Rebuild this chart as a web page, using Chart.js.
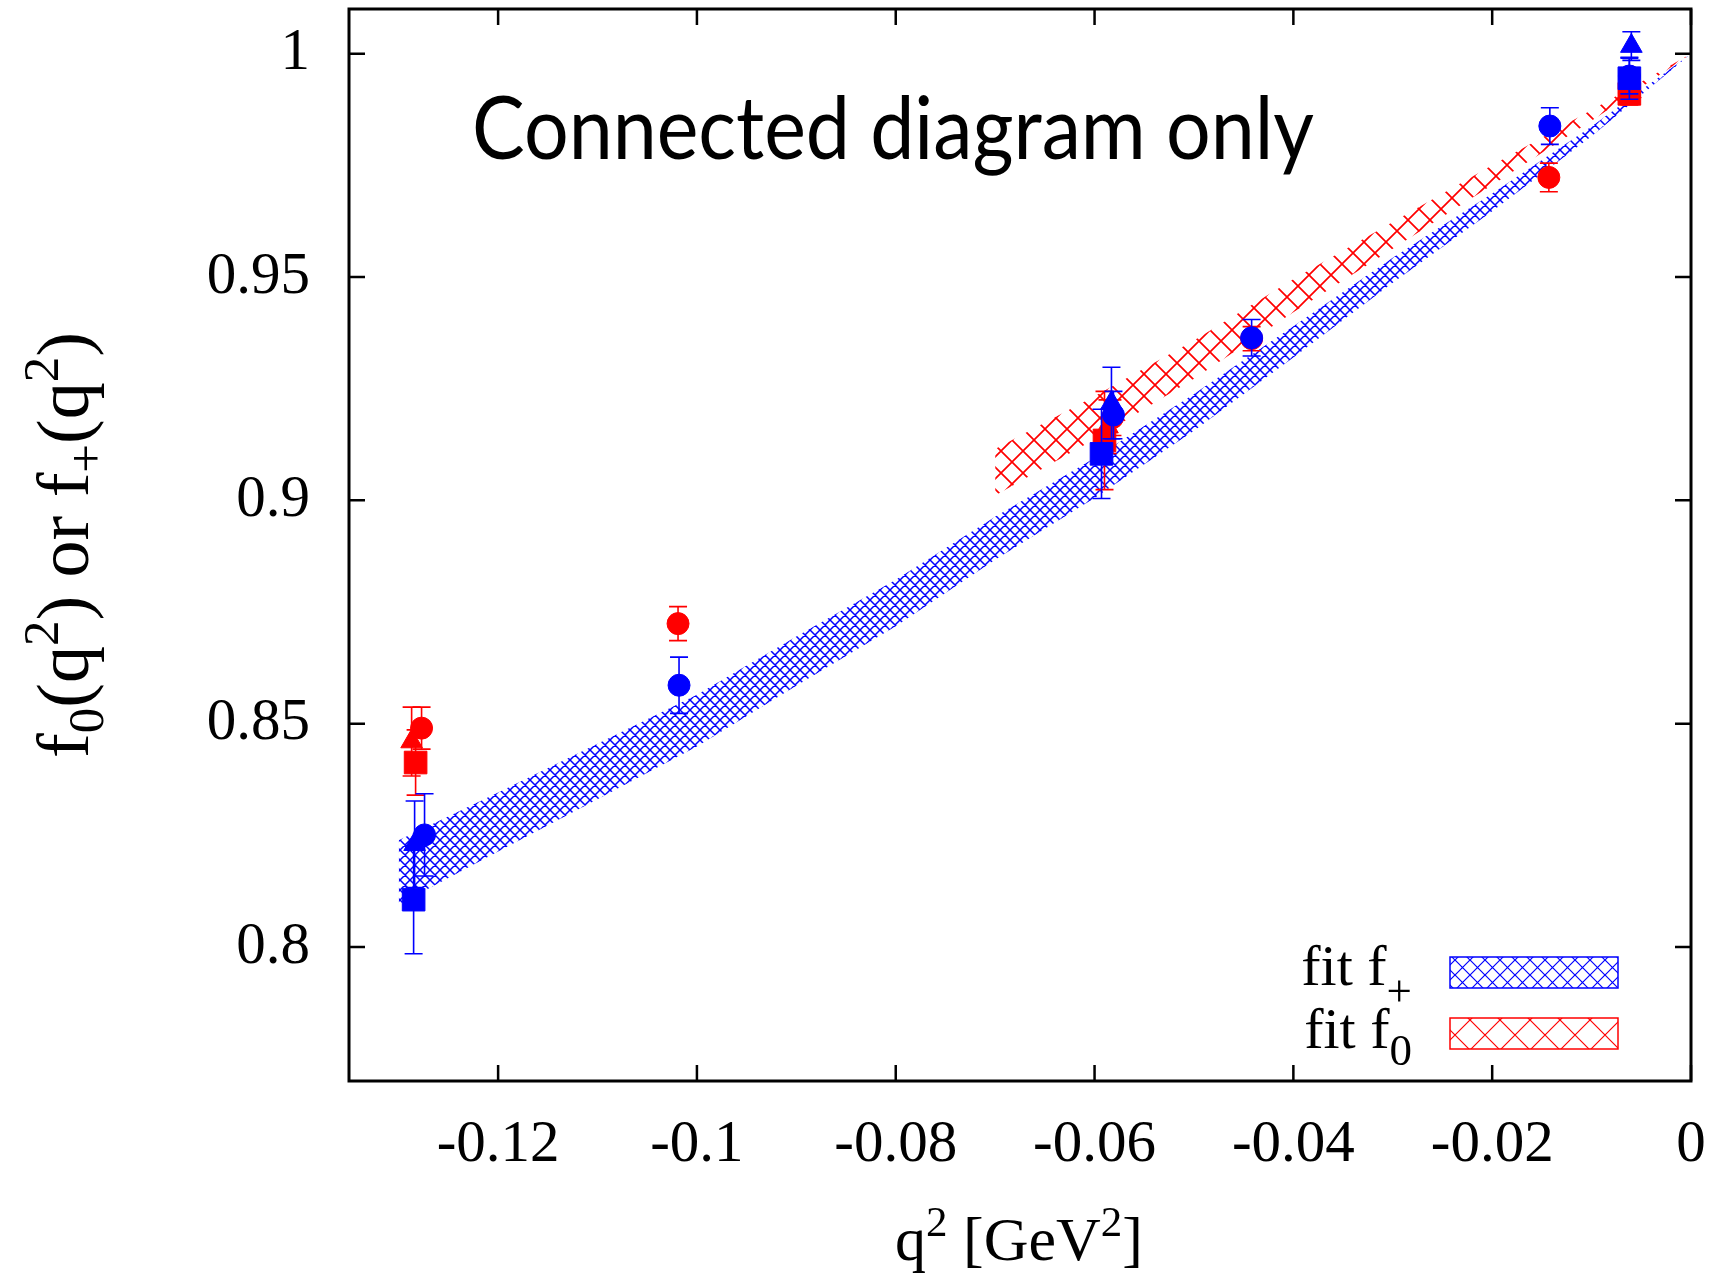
<!DOCTYPE html>
<html>
<head>
<meta charset="utf-8">
<title>Form factors f0 and f+</title>
<script src="https://cdn.jsdelivr.net/npm/chart.js@4.4.0/dist/chart.umd.min.js"></script>
<style>
  html, body { margin: 0; padding: 0; background: #fff; }
  canvas { display: block; }
</style>
</head>
<body>
<canvas id="ff" width="1721" height="1274"></canvas>
<script>
// axis ticks
var xTicks = [-0.12, -0.1, -0.08, -0.06, -0.04, -0.02, 0];
var xTickLabels = ['-0.12', '-0.1', '-0.08', '-0.06', '-0.04', '-0.02', '0'];
var yTicks = [0.8, 0.85, 0.9, 0.95, 1];
var yTickLabels = ['0.8', '0.85', '0.9', '0.95', '1'];

// f+ lattice points (blue)
var fpCircQ2  = [-0.1274, -0.1018, -0.0581, -0.0442, -0.0142, -0.0062];
var fpCircVal = [0.8251, 0.8586, 0.9191, 0.9364, 0.9838, 0.9950];
var fpCircErr = [0.0092, 0.0063, 0.0053, 0.0041, 0.0041, 0.0040];
var fpTriQ2   = [-0.1284, -0.0583, -0.0060];
var fpTriVal  = [0.8230, 0.9218, 1.0017];
var fpTriErr  = [0.0097, 0.0080, 0.0032];
var fpSqQ2    = [-0.1285, -0.0593, -0.0062];
var fpSqVal   = [0.8106, 0.9104, 0.9945];
var fpSqErr   = [0.0121, 0.0100, 0.0047];

// f0 lattice points (red)
var f0CircQ2  = [-0.1277, -0.1019, -0.0582, -0.0442, -0.0143, -0.0062];
var f0CircVal = [0.8490, 0.8724, 0.9185, 0.9362, 0.9723, 0.9912];
var f0CircErr = [0.0047, 0.0038, 0.0040, 0.0027, 0.0032, 0.0020];
var f0TriQ2   = [-0.1287, -0.0587, -0.0061];
var f0TriVal  = [0.8460, 0.9165, 0.9915];
var f0TriErr  = [0.0077, 0.0060, 0.0022];
var f0SqQ2    = [-0.1283, -0.0590, -0.0062];
var f0SqVal   = [0.8413, 0.9134, 0.9910];
var f0SqErr   = [0.0073, 0.0110, 0.0025];

// fit bands (upper / lower edge)
var bandPlusQ2 = [-0.130, -0.120, -0.110, -0.100, -0.090, -0.080, -0.070, -0.060, -0.050, -0.040, -0.030, -0.020, -0.010, 0];
var bandPlusHi = [0.8239, 0.8346, 0.8455, 0.8565, 0.8695, 0.8822, 0.8963, 0.9095, 0.9238, 0.9390, 0.9543, 0.9687, 0.9837, 1.0];
var bandPlusLo = [0.8095, 0.8214, 0.8331, 0.8449, 0.8585, 0.8718, 0.8867, 0.9005, 0.9156, 0.9320, 0.9487, 0.9647, 0.9815, 1.0];
var bandZeroQ2 = [-0.070, -0.060, -0.050, -0.040, -0.030, -0.020, -0.010, 0];
var bandZeroHi = [0.9115, 0.9233, 0.9358, 0.9495, 0.9623, 0.9750, 0.9874, 1.0];
var bandZeroLo = [0.9011, 0.9137, 0.9272, 0.9421, 0.9563, 0.9706, 0.9850, 1.0];

var BLUE = '#0000ff';
var RED = '#ff0000';
var SERIF = '"Liberation Serif", "DejaVu Serif", serif';

function pts(xs, ys) {
  return xs.map(function (x, i) { return { x: x, y: ys[i] }; });
}

// crosshatch fill used by the fit bands
function hatch(color, step, lw) {
  var c = document.createElement('canvas');
  c.width = step; c.height = step;
  var g = c.getContext('2d');
  g.strokeStyle = color;
  g.lineWidth = lw;
  g.beginPath();
  for (var k = -1; k <= 1; k++) {
    g.moveTo(k * step - 1, -1); g.lineTo(k * step + step + 1, step + 1);
    g.moveTo(k * step + step + 1, -1); g.lineTo(k * step - 1, step + 1);
  }
  g.stroke();
  return g.createPattern(c, 'repeat');
}

var ctx = document.getElementById('ff').getContext('2d');
var bluePat = hatch(BLUE, 10, 1.5);
var redPat = hatch(RED, 22, 1.7);
var bluePatKey = hatch(BLUE, 15, 1.2);
var redPatKey = hatch(RED, 30, 1.2);

function band(xs, ys, fill, pattern, order) {
  return {
    type: 'line', data: pts(xs, ys), order: order,
    borderColor: 'transparent', borderWidth: 0, pointRadius: 0,
    fill: fill, backgroundColor: pattern, tension: 0
  };
}

function marks(xs, ys, errs, color, style, r, order) {
  return {
    data: pts(xs, ys), errs: errs, order: order,
    pointStyle: style, pointRadius: r,
    backgroundColor: color, borderColor: color, borderWidth: 1
  };
}

// text with sub/superscript pieces, drawn left to right on a baseline
function drawRuns(c, runs, x, y, align) {
  var w = 0;
  runs.forEach(function (r) { c.font = r.font; r.w = c.measureText(r.t).width; w += r.w; });
  var cx = align === 'right' ? x - w : (align === 'center' ? x - w / 2 : x);
  runs.forEach(function (r) {
    c.font = r.font;
    c.fillText(r.t, cx, y + (r.dy || 0));
    cx += r.w;
  });
}

var decor = {
  id: 'decor',
  beforeDatasetDraw: function (chart, args) {
    var ds = chart.data.datasets[args.index];
    if (!ds.errs) return;
    var c = chart.ctx, xs = chart.scales.x, ys = chart.scales.y;
    c.save();
    c.strokeStyle = ds.borderColor;
    c.lineWidth = 1.6;
    c.beginPath();
    ds.data.forEach(function (p, i) {
      var px = xs.getPixelForValue(p.x);
      var top = ys.getPixelForValue(p.y + ds.errs[i]);
      var bot = ys.getPixelForValue(p.y - ds.errs[i]);
      c.moveTo(px, top); c.lineTo(px, bot);
      c.moveTo(px - 9, top); c.lineTo(px + 9, top);
      c.moveTo(px - 9, bot); c.lineTo(px + 9, bot);
    });
    c.stroke();
    c.restore();
  },
  afterDraw: function (chart) {
    var c = chart.ctx, a = chart.chartArea;
    var xs = chart.scales.x, ys = chart.scales.y;
    c.save();
    c.fillStyle = '#000';
    c.strokeStyle = '#000';

    // inward tick marks on all four sides
    c.lineWidth = 2.5;
    c.beginPath();
    xTicks.forEach(function (v) {
      var px = xs.getPixelForValue(v);
      c.moveTo(px, a.bottom); c.lineTo(px, a.bottom - 16);
      c.moveTo(px, a.top); c.lineTo(px, a.top + 16);
    });
    yTicks.forEach(function (v) {
      var py = ys.getPixelForValue(v);
      c.moveTo(a.left, py); c.lineTo(a.left + 16, py);
      c.moveTo(a.right, py); c.lineTo(a.right - 16, py);
    });
    c.stroke();

    // frame
    c.lineWidth = 3;
    c.strokeRect(a.left, a.top, a.right - a.left, a.bottom - a.top);

    // title inside the plot
    c.font = '87px Lato, "Open Sans", sans-serif';
    c.textBaseline = 'alphabetic';
    var title = 'Connected diagram only';
    var tw = c.measureText(title).width;
    c.save();
    c.translate(472, 159);
    c.scale(842 / tw, 1);
    c.fillText(title, 0, 0);
    c.restore();

    // x axis title
    var big = '62px ' + SERIF, small = '43px ' + SERIF;
    drawRuns(c, [
      { t: 'q', font: big },
      { t: '2', font: small, dy: -24 },
      { t: ' [GeV', font: big },
      { t: '2', font: small, dy: -24 },
      { t: ']', font: big }
    ], 1019, 1260, 'center');

    // y axis title
    var yb = '74px ' + SERIF, ys2 = '51px ' + SERIF;
    c.save();
    c.translate(88, 545);
    c.rotate(-Math.PI / 2);
    drawRuns(c, [
      { t: 'f', font: yb },
      { t: '0', font: ys2, dy: 15 },
      { t: '(q', font: yb },
      { t: '2', font: ys2, dy: -30 },
      { t: ') or f', font: yb },
      { t: '+', font: ys2, dy: 15 },
      { t: '(q', font: yb },
      { t: '2', font: ys2, dy: -30 },
      { t: ')', font: yb }
    ], 0, 0, 'center');
    c.restore();

    // key
    var kb = '58px ' + SERIF, ks = '45px ' + SERIF;
    drawRuns(c, [{ t: 'fit f', font: kb }, { t: '+', font: ks, dy: 21 }], 1412, 985, 'right');
    drawRuns(c, [{ t: 'fit f', font: kb }, { t: '0', font: ks, dy: 17 }], 1412, 1048, 'right');
    c.lineWidth = 1.5;
    c.fillStyle = bluePatKey;
    c.fillRect(1450, 957, 168, 31);
    c.strokeStyle = BLUE;
    c.strokeRect(1450, 957, 168, 31);
    c.fillStyle = redPatKey;
    c.fillRect(1450, 1018, 168, 31);
    c.strokeStyle = RED;
    c.strokeRect(1450, 1018, 168, 31);

    c.restore();
  }
};

var chart = new Chart(ctx, {
  type: 'scatter',
  data: {
    datasets: [
      band(bandZeroQ2, bandZeroHi, false, redPat, 8),
      band(bandZeroQ2, bandZeroLo, '-1', redPat, 8),
      band(bandPlusQ2, bandPlusHi, false, bluePat, 7),
      band(bandPlusQ2, bandPlusLo, '-1', bluePat, 7),
      marks(f0CircQ2, f0CircVal, f0CircErr, RED, 'circle', 11, 6),
      marks(f0TriQ2, f0TriVal, f0TriErr, RED, 'triangle', 12.5, 5),
      marks(f0SqQ2, f0SqVal, f0SqErr, RED, 'rect', 16, 4),
      marks(fpCircQ2, fpCircVal, fpCircErr, BLUE, 'circle', 11, 3),
      marks(fpTriQ2, fpTriVal, fpTriErr, BLUE, 'triangle', 12.5, 2),
      marks(fpSqQ2, fpSqVal, fpSqErr, BLUE, 'rect', 16, 1)
    ]
  },
  options: {
    responsive: false,
    animation: false,
    devicePixelRatio: 1,
    events: [],
    layout: { autoPadding: false, padding: { top: 9, right: 30, left: 0, bottom: 0 } },
    plugins: { legend: { display: false }, tooltip: { enabled: false } },
    scales: {
      x: {
        type: 'linear', min: -0.135, max: 0,
        afterFit: function (s) {
          s.height = 1274 - 1081;
          s.paddingLeft = 0; s.paddingRight = 0;
        },
        afterBuildTicks: function (s) { s.ticks = xTicks.map(function (v) { return { value: v }; }); },
        ticks: {
          callback: function (v, i) { return xTickLabels[i]; },
          font: { family: SERIF, size: 59 }, color: '#000',
          padding: 29, maxRotation: 0, autoSkip: false
        },
        grid: { display: false, drawTicks: false },
        border: { display: false }
      },
      y: {
        type: 'linear', min: 0.77, max: 1.01,
        afterFit: function (s) {
          s.width = 349;
          s.paddingTop = 0; s.paddingBottom = 0;
        },
        afterBuildTicks: function (s) { s.ticks = yTicks.map(function (v) { return { value: v }; }); },
        ticks: {
          callback: function (v, i) { return yTickLabels[i]; },
          font: { family: SERIF, size: 59 }, color: '#000',
          padding: 39, autoSkip: false
        },
        grid: { display: false, drawTicks: false },
        border: { display: false }
      }
    }
  },
  plugins: [decor]
});
</script>
</body>
</html>
